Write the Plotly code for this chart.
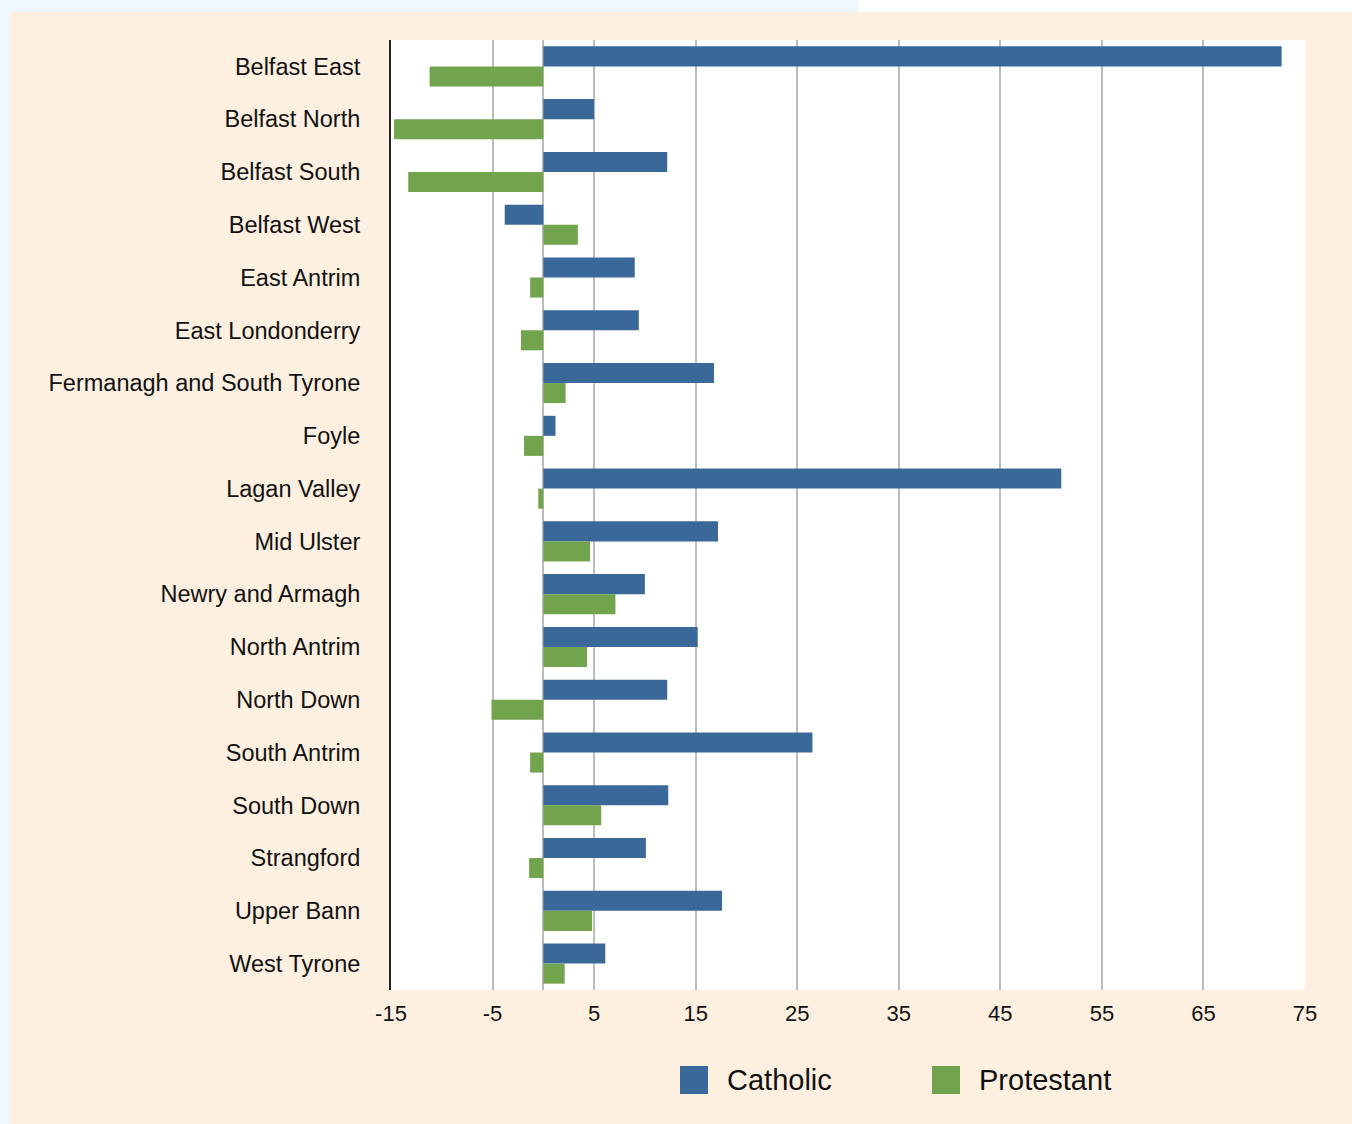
import plotly.graph_objects as go

# constituencies, top to bottom
constituencies = ["Belfast East", "Belfast North", "Belfast South", "Belfast West",
                  "East Antrim", "East Londonderry", "Fermanagh and South Tyrone",
                  "Foyle", "Lagan Valley", "Mid Ulster", "Newry and Armagh",
                  "North Antrim", "North Down", "South Antrim", "South Down",
                  "Strangford", "Upper Bann", "West Tyrone"]

catholic = [72.7, 5.0, 12.2, -3.8, 9.0, 9.4, 16.8, 1.2, 51.0, 17.2, 10.0,
            15.2, 12.2, 26.5, 12.3, 10.1, 17.6, 6.1]
protestant = [-11.2, -14.7, -13.3, 3.4, -1.3, -2.2, 2.2, -1.9, -0.5, 4.6, 7.1,
              4.3, -5.1, -1.3, 5.7, -1.4, 4.8, 2.1]

x_ticks = [-15, -5, 5, 15, 25, 35, 45, 55, 65, 75]

BLUE = "#3a6899"
GREEN = "#72a34d"
BEIGE = "#fdf0e0"
FONT = "Liberation Sans, Arial, sans-serif"

W, H = 1352, 1124
L, R, T, B = 391, 47, 40, 134
pw, ph = W - L - R, H - T - B


def px_x(x):  # pixel -> paper x
    return (x - L) / pw


def px_y(y):  # pixel -> paper y
    return (H - B - y) / ph


fig = go.Figure()
fig.add_trace(go.Bar(y=constituencies, x=catholic, orientation="h",
                     name="Catholic", marker=dict(color=BLUE, line_width=0)))
fig.add_trace(go.Bar(y=constituencies, x=protestant, orientation="h",
                     name="Protestant", marker=dict(color=GREEN, line_width=0)))

shapes = [
    # light blue strip top-left and left edge, white top-right
    dict(type="rect", xref="paper", yref="paper", x0=px_x(0), x1=px_x(858),
         y0=px_y(12), y1=px_y(0), fillcolor="#eef7fd", line_width=0, layer="below"),
    dict(type="rect", xref="paper", yref="paper", x0=px_x(858), x1=px_x(1352),
         y0=px_y(12), y1=px_y(0), fillcolor="white", line_width=0, layer="below"),
    dict(type="rect", xref="paper", yref="paper", x0=px_x(0), x1=px_x(10),
         y0=px_y(1124), y1=px_y(0), fillcolor="#eef7fd", line_width=0, layer="below"),
]

# hand-drawn legend with big square swatches
for label, color, x0 in [("Catholic", BLUE, 680), ("Protestant", GREEN, 932)]:
    shapes.append(dict(type="rect", xref="paper", yref="paper",
                       x0=px_x(x0), x1=px_x(x0 + 28), y0=px_y(1094), y1=px_y(1066),
                       fillcolor=color, line_width=0))
    fig.add_annotation(x=px_x(x0 + 45), y=px_y(1080), xref="paper", yref="paper",
                       text=label, showarrow=False, xanchor="left", yanchor="middle",
                       font=dict(size=29, color="#111", family=FONT))

fig.update_layout(
    width=W, height=H,
    margin=dict(l=L, r=R, t=T, b=B),
    paper_bgcolor=BEIGE, plot_bgcolor="white",
    barmode="group", bargap=0.24, bargroupgap=0,
    showlegend=False,
    shapes=shapes,
    font=dict(family=FONT, color="#111"),
)
fig.update_xaxes(range=[-15, 75], tickvals=x_ticks, ticktext=[str(v) for v in x_ticks],
                 showgrid=True, gridcolor="#bcbcbc", gridwidth=2,
                 zeroline=True, zerolinecolor="#bcbcbc", zerolinewidth=2,
                 tickfont=dict(size=22), ticks="", ticklabelstandoff=8,
                 showline=False)
fig.update_yaxes(autorange="reversed", showgrid=False, zeroline=False,
                 showline=True, linecolor="#222", linewidth=2,
                 tickfont=dict(size=23.5), ticks="", ticklabelstandoff=24)

# drop the default page margin so the figure sits at the window's top-left
fig.write_html("out.html", config={"displayModeBar": False},
               post_script="document.body.style.margin='0';")
